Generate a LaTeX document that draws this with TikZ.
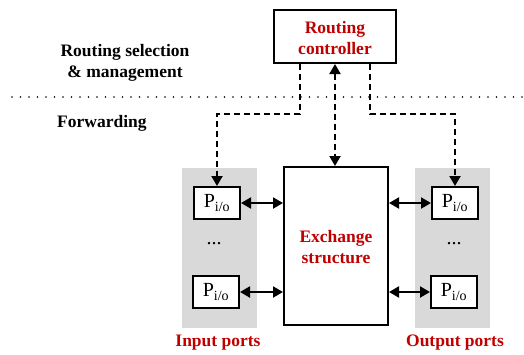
\documentclass[tikz,border=0pt]{standalone}
\usepackage{fontspec}
\setmainfont{Liberation Serif}
\usetikzlibrary{arrows.meta}
\definecolor{darkred}{HTML}{C00000}
\definecolor{panelgrey}{HTML}{D9D9D9}
\begin{document}
\begin{tikzpicture}[x=1pt,y=-1pt,
  >={Triangle[length=10pt,width=11pt]},
  box/.style={draw=black,line width=2pt,fill=white,inner sep=0pt,anchor=center},
  pbox/.style={box,minimum width=46pt,minimum height=32pt,font=\fontsize{20}{22}\selectfont},
  lbl/.style={font=\bfseries\fontsize{17.5}{21}\selectfont,align=center,inner sep=0pt},
  redlbl/.style={lbl,text=darkred},
  ctl/.style={line width=2pt,dash pattern=on 6pt off 4pt},
  conn/.style={line width=2pt}]
\useasboundingbox (0,0) rectangle (524,354);
% grey panels
\fill[panelgrey] (182,168) rectangle (257,328);
\fill[panelgrey] (415,168) rectangle (490,328);
% dotted separator
\draw[line width=1.8pt,line cap=round,dash pattern=on 0pt off 8.5pt] (12,97) -- (522,97);
% labels
\node[lbl] (rs) at (125,63) {Routing selection\\\& management};
\node[lbl,anchor=west] (fw) at (57,123) {Forwarding};
% boxes
\node[box,minimum width=122pt,minimum height=53pt] (rc) at (335,36.5) {};
\node[redlbl] (rct) at (335,38) {Routing\\controller};
\node[box,minimum width=104pt,minimum height=158pt] (ex) at (336,246) {};
\node[redlbl] (ext) at (336,247) {Exchange\\structure};
\node[pbox] (L1) at (217,203) {P\textsubscript{i/o}};
\node[pbox] (L2) at (216,292) {P\textsubscript{i/o}};
\node[pbox] (R1) at (455,203) {P\textsubscript{i/o}};
\node[pbox] (R2) at (454,292) {P\textsubscript{i/o}};
\node[font=\fontsize{20}{22}\selectfont,inner sep=0pt] (ld) at (214,244) {...};
\node[font=\fontsize{20}{22}\selectfont,inner sep=0pt] (rd) at (454,244) {...};
\node[redlbl] (ip) at (218,343) {Input ports};
\node[redlbl] (op) at (455,343) {Output ports};
% control connectors
\coordinate (la) at (300,114);
\coordinate (ra) at (370,114);
\draw[ctl,->] (rc.south -| la) -- (la) -| (L1.north);
\draw[ctl,->] (rc.south -| ra) -- (ra) -| (R1.north);
\draw[ctl,<->] (rc.south) -- (ex.north -| rc.south);
% data connectors
\draw[conn,<->] (L1.east) -- (ex.west |- L1.east);
\draw[conn,<->] (L2.east) -- (ex.west |- L2.east);
\draw[conn,<->] (R1.west) -- (ex.east |- R1.west);
\draw[conn,<->] (R2.west) -- (ex.east |- R2.west);
\end{tikzpicture}
\end{document}
